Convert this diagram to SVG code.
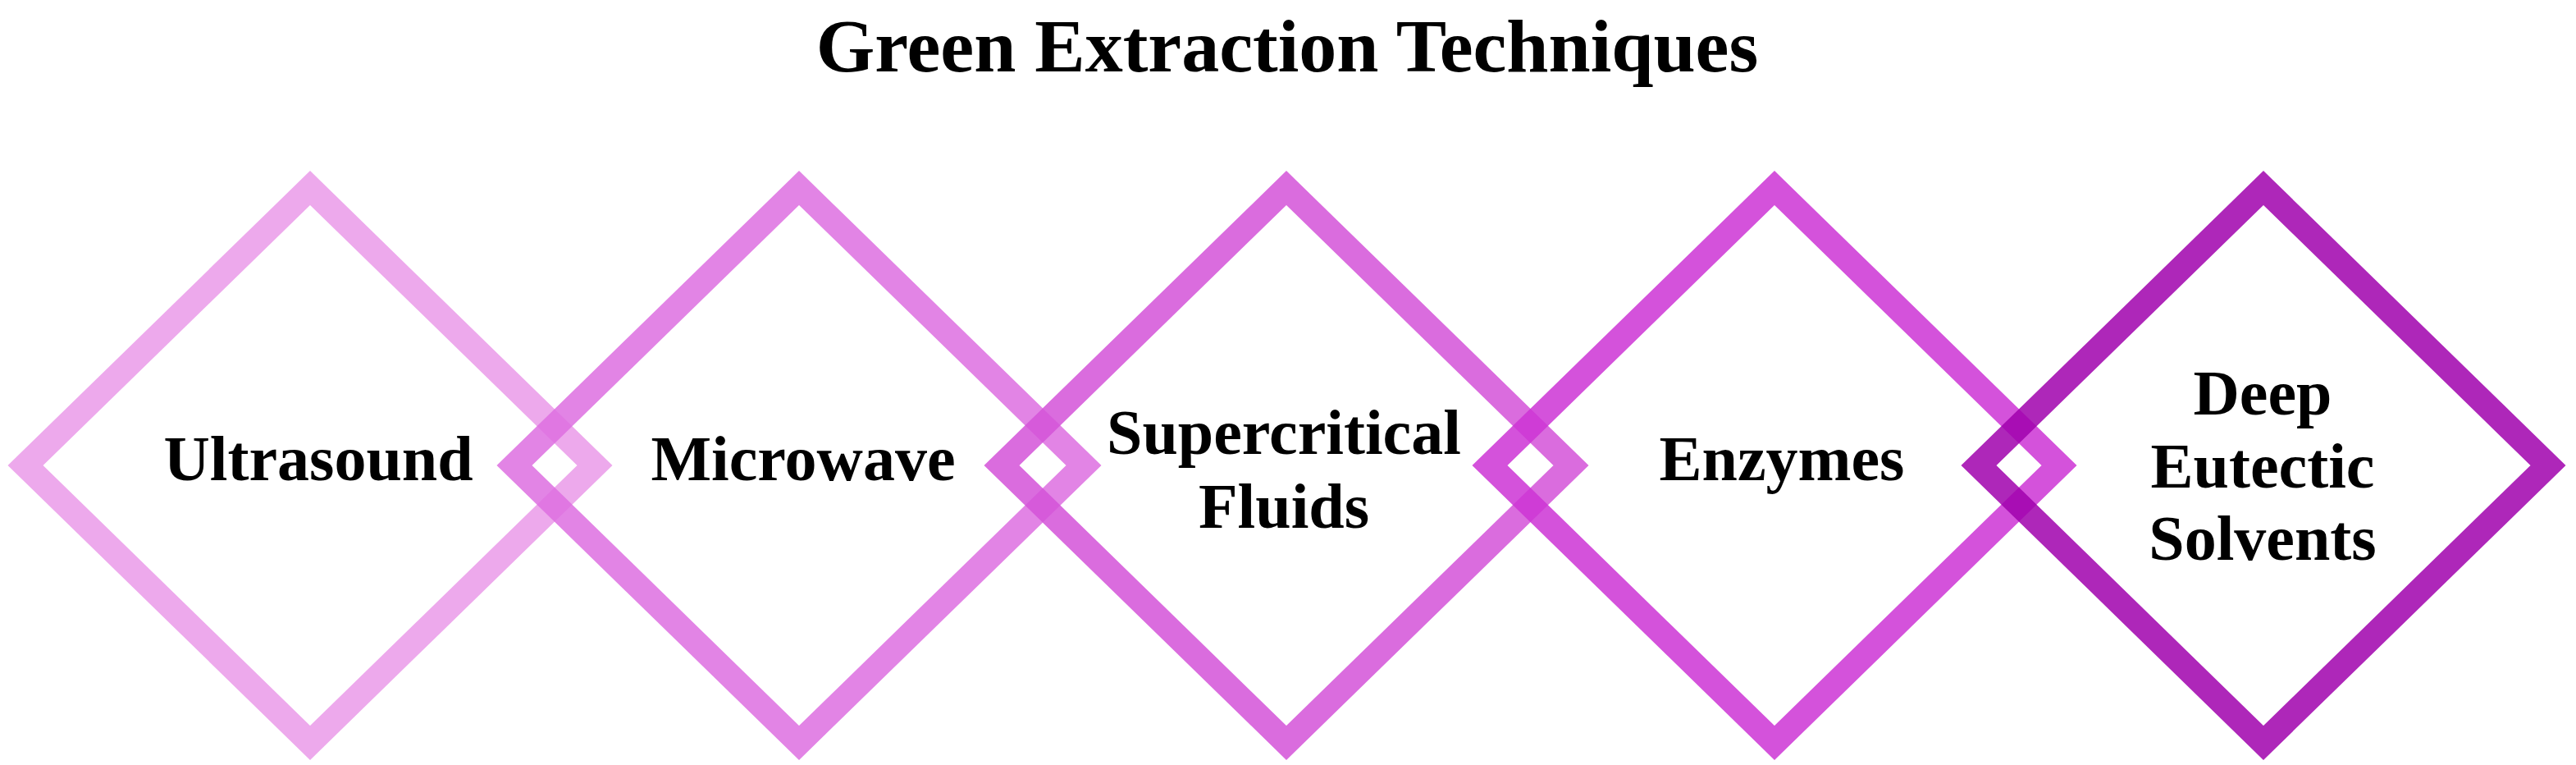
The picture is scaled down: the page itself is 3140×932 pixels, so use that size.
<svg xmlns="http://www.w3.org/2000/svg" width="3140" height="932" viewBox="0 0 3140 932">
<style>
.d{fill:none;stroke-width:30;stroke-linejoin:miter;stroke-miterlimit:10;stroke-opacity:0.85}
.t{font-family:"Liberation Serif","Times New Roman",serif;font-weight:bold;fill:#000;text-anchor:middle}
.lbl{font-size:78px}
.title{font-size:92px}
</style>
<rect width="3140" height="932" fill="#fff"/>
<text class="t title" x="1569" y="87">Green Extraction Techniques</text>
<g id="connectors"></g>
<g id="node-ultrasound">
<polygon class="d" stroke="#EA9AE9" points="378,229 725,567 378,905 31,567"/>
</g>
<g id="node-microwave">
<polygon class="d" stroke="#DD6EE0" points="974,229 1321,567 974,905 627,567"/>
</g>
<g id="node-supercritical">
<polygon class="d" stroke="#D452D8" points="1568,229 1915,567 1568,905 1221,567"/>
</g>
<g id="node-enzymes">
<polygon class="d" stroke="#CC34D5" points="2163,229 2510,567 2163,905 1816,567"/>
</g>
<g id="node-des">
<polygon class="d" stroke="#A001AD" points="2759,229 3106,567 2759,905 2412,567"/>
</g>
<g id="labels">
<text class="t lbl" x="388" y="585">Ultrasound</text>
<text class="t lbl" x="979" y="585">Microwave</text>
<text class="t lbl" x="1565" y="553">Supercritical</text>
<text class="t lbl" x="1565" y="643">Fluids</text>
<text class="t lbl" x="2172" y="585">Enzymes</text>
<text class="t lbl" x="2758" y="505">Deep</text>
<text class="t lbl" x="2758" y="594">Eutectic</text>
<text class="t lbl" x="2758" y="682">Solvents</text>
</g>
</svg>
